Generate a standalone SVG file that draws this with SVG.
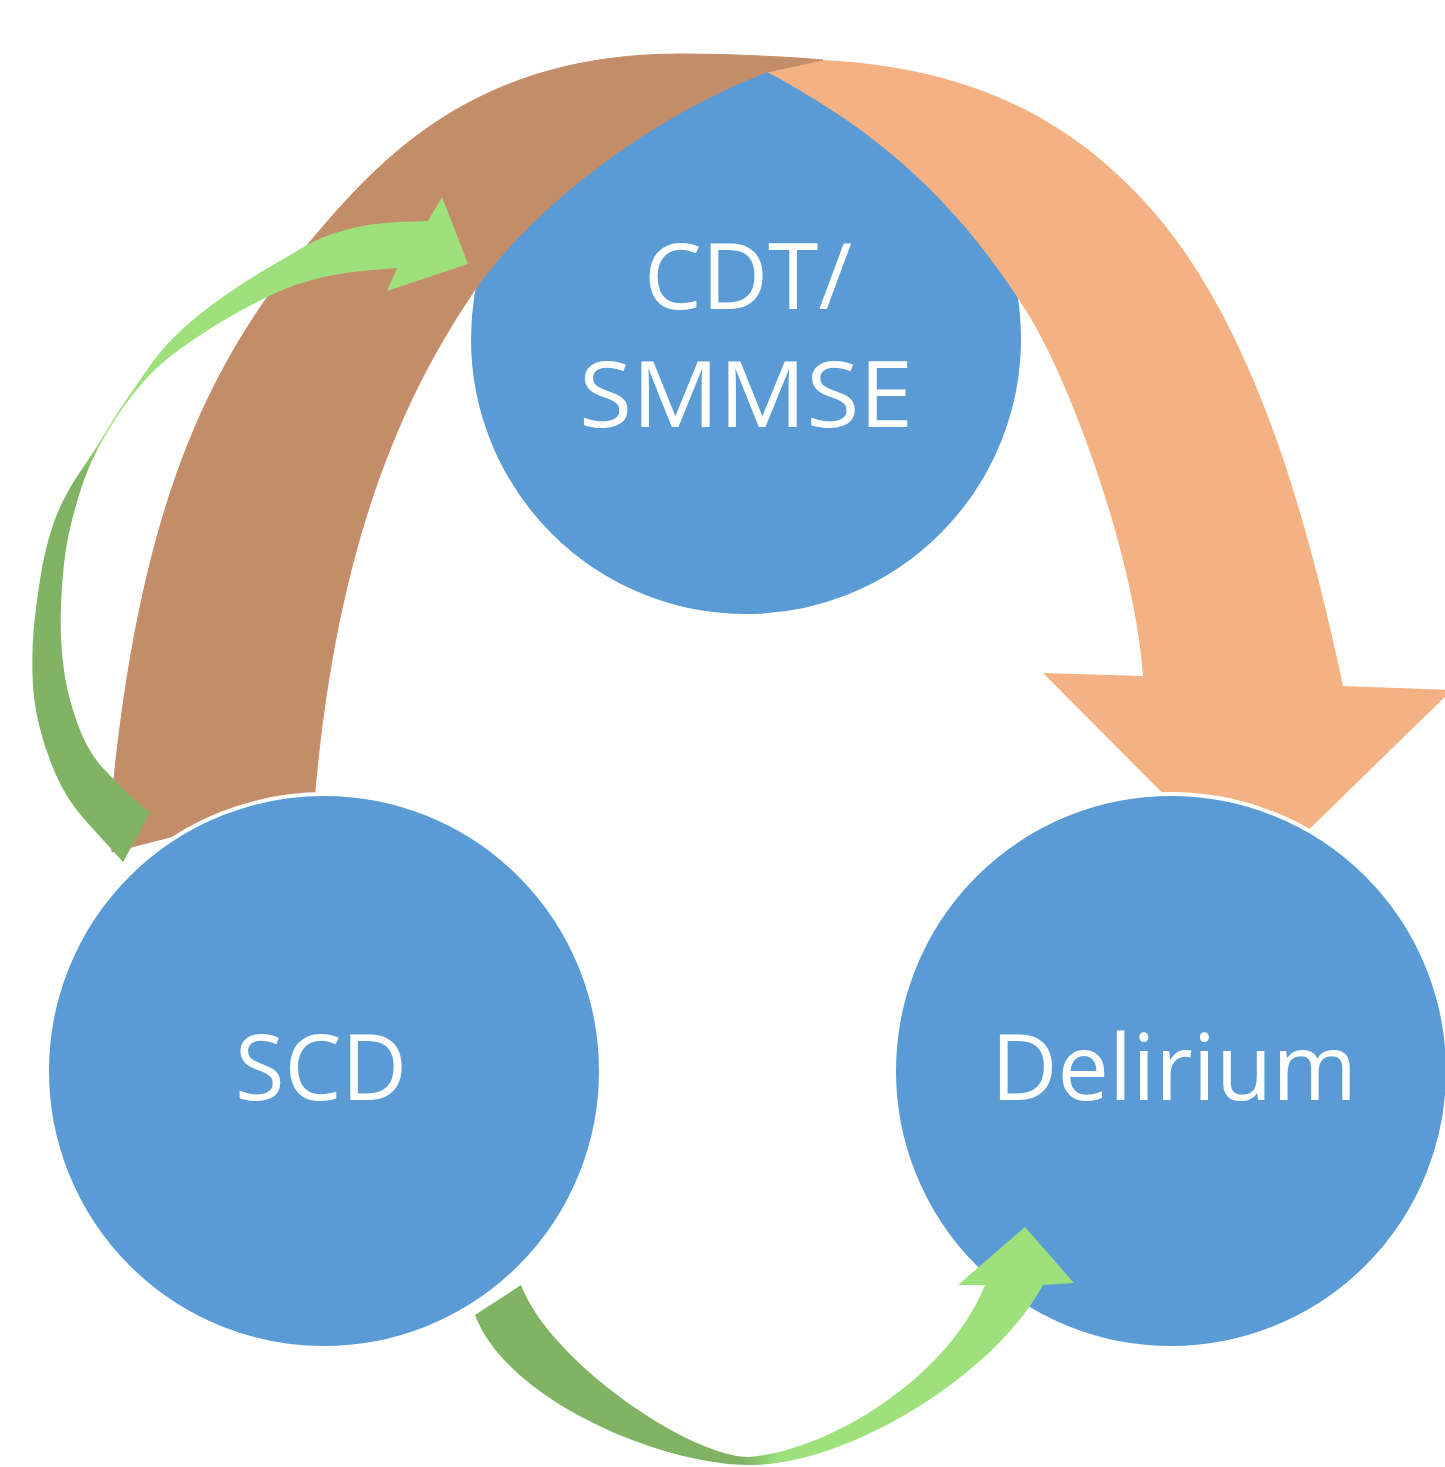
<svg xmlns="http://www.w3.org/2000/svg" width="1445" height="1467" viewBox="0 0 1445 1467">
  <defs>
    <style>
      .node { fill: #5B9BD5; stroke: #FFFFFF; stroke-width: 4; }
      .label { font-family: "Open Sans", "Noto Sans", "Liberation Sans", sans-serif; font-size: 92px; fill: #FFFFFF; text-anchor: middle; }
      .brown { fill: #C48D69; stroke: #C48D69; stroke-width: 1; }
      .orange { fill: #F4B183; }
    </style>
    <linearGradient id="gLeft" gradientUnits="userSpaceOnUse" x1="0" y1="472" x2="0" y2="436">
      <stop offset="0" stop-color="#80B464"/>
      <stop offset="1" stop-color="#9DE07C"/>
    </linearGradient>
    <linearGradient id="gBottom" gradientUnits="userSpaceOnUse" x1="745" y1="0" x2="778" y2="0">
      <stop offset="0" stop-color="#80B464"/>
      <stop offset="1" stop-color="#9DE07C"/>
    </linearGradient>
  </defs>
  <rect x="0" y="0" width="1445" height="1467" fill="#FFFFFF"/>

  <g id="node-cdt">
    <circle class="node" cx="746" cy="339" r="277"/>
  </g>

  <g id="connectors">
    <path id="arrow-cdt-delirium" class="orange" d="M823,60 C973,67.8 1068,119.6 1143,200 C1245.3,309.7 1301.6,490.4 1343,686 L1452,690 L1253,884 L1043,673 L1143,676 C1134.6,556.3 1070.4,381.8 1028,314 C959.1,203.8 881.8,133 767,72 Z"/>
    <path id="arrow-scd-top" class="brown" d="M113,788 C143,489.5 215.7,351.3 320,230 C385.2,154.2 480,54 680,54 C730,54 790,57 823,60 L767,72 C654.6,114 528,207.8 468,300 C402,400.2 337.5,541 315,790 L315,800 L112,852 Z"/>
    <path id="arrow-scd-cdt" fill="url(#gLeft)" d="M123,862 L113,851 Q103,840 85,820 Q67,800 56,775 Q45,750 39,725 Q33,700 32.5,675 Q32,650 33.5,631.5 Q35,613 40,580 Q45,547 54,522 Q63,497 80,472 Q97,447 107,430 Q117,413 128.5,396.5 Q140,380 151.5,363.5 Q163,347 181.5,330 Q200,313 223.5,296.5 Q247,280 267,268.5 Q287,257 303.5,247 Q320,237 345,230 Q370,223 399,222 L428,221 L442,197 L468,264 L387,291 L397,268 L367,270.5 Q337,273 312,280 Q287,287 267,297 Q247,307 227,318.5 Q207,330 183.5,346.5 Q160,363 145,380 Q130,397 119,413.5 Q108,430 99,446.5 Q90,463 84,480 Q78,497 71.5,522 Q65,547 62.5,580 Q60,613 61,636.5 Q62,660 65.5,680 Q69,700 78,725 Q87,750 101.5,766.5 Q116,783 133,798 L150,813 Z"/>
  </g>

  <g id="node-scd">
    <circle class="node" cx="324" cy="1071" r="277"/>
  </g>

  <g id="node-delirium">
    <circle class="node" cx="1171" cy="1071" r="277"/>
  </g>

  <g id="connectors-front">
    <path id="arrow-scd-delirium" fill="url(#gBottom)" d="M475,1315 C506.5,1399.6 660,1465 750,1465 C850,1465 996,1373 1043,1285 L1074,1283 L1025,1227 L958,1285 L985,1285 C948,1378 829,1450.6 749,1457 C689,1457 549,1360.2 521,1285 Z"/>
  </g>

  <g id="labels">
    <text class="label" x="748" y="309" textLength="208" lengthAdjust="spacingAndGlyphs">CDT/</text>
    <text class="label" x="746" y="427" textLength="334" lengthAdjust="spacingAndGlyphs">SMMSE</text>
    <text class="label" x="321" y="1100" textLength="172" lengthAdjust="spacingAndGlyphs">SCD</text>
    <text class="label" x="1174" y="1100" textLength="366" lengthAdjust="spacingAndGlyphs">Delirium</text>
  </g>
</svg>
